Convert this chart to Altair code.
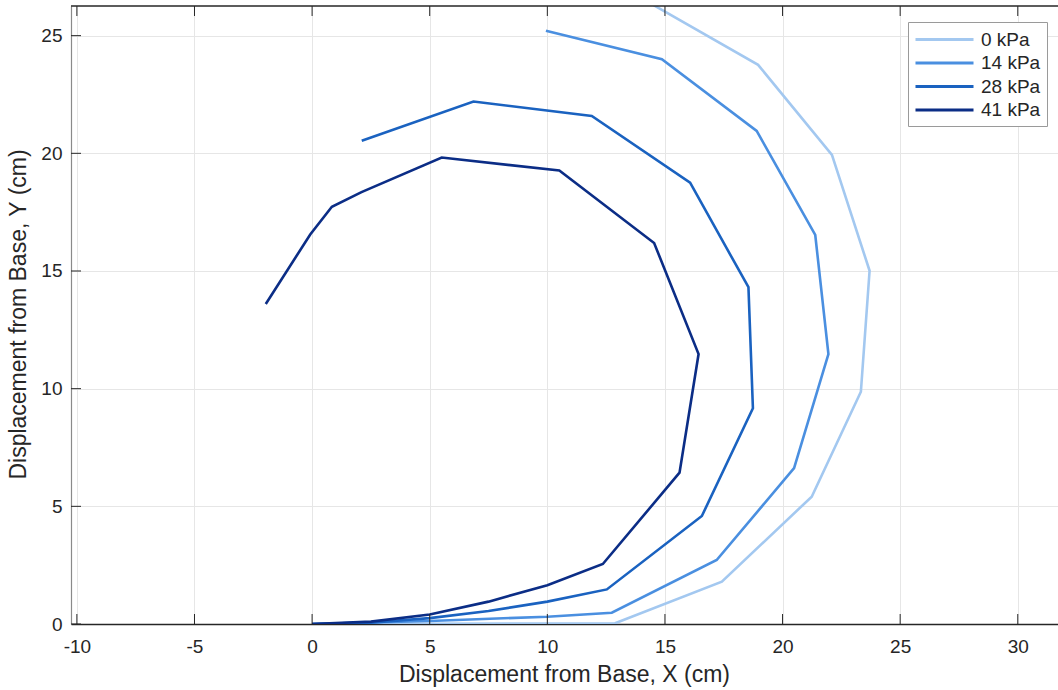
import altair as alt
import pandas as pd

# ---------------- data ----------------
series = ["0 kPa", "14 kPa", "28 kPa", "41 kPa"]
colors = ["#a3c8f0", "#4a8fe0", "#1a62c0", "#0b2d86"]

x_0kpa = [0, 5, 10, 12.88, 17.42, 21.24, 23.33, 23.70, 22.10, 18.96, 14.25]
y_0kpa = [0, 0.01, 0.02, 0.03, 1.80, 5.41, 9.87, 15.01, 19.93, 23.76, 26.45]

x_14kpa = [0, 5, 10, 12.74, 17.20, 20.49, 21.95, 21.39, 18.90, 14.87, 9.94]
y_14kpa = [0, 0.13, 0.31, 0.48, 2.72, 6.62, 11.47, 16.53, 20.95, 24.00, 25.21]

x_28kpa = [0, 2.5, 5, 7.5, 10, 12.53, 16.57, 18.74, 18.55, 16.07, 11.89, 6.86, 2.11]
y_28kpa = [0, 0.06, 0.25, 0.55, 0.95, 1.47, 4.59, 9.17, 14.31, 18.75, 21.59, 22.20, 20.53]

x_41kpa = [0, 2.5, 5, 7.5, 10, 12.36, 15.62, 16.43, 14.54, 10.51, 5.51, 2.10, 0.84, -0.08, -1.97]
y_41kpa = [0, 0.10, 0.40, 0.95, 1.65, 2.55, 6.43, 11.47, 16.19, 19.27, 19.82, 18.35, 17.73, 16.55, 13.60]

x_ticks = [-10, -5, 0, 5, 10, 15, 20, 25, 30]
y_ticks = [0, 5, 10, 15, 20, 25]

x_domain = [-10.25, 31.71]
y_domain = [0, 26.26]

# ---------------- build tables ----------------
rows = []
for name, xs, ys in zip(series,
                        [x_0kpa, x_14kpa, x_28kpa, x_41kpa],
                        [y_0kpa, y_14kpa, y_28kpa, y_41kpa]):
    for i, (xv, yv) in enumerate(zip(xs, ys)):
        rows.append({"series": name, "x": xv, "y": yv, "order": i})
df = pd.DataFrame(rows)

W, H = 987, 618
FONT = "Liberation Sans"
TXT = "#262626"

xscale = alt.Scale(domain=x_domain, nice=False, zero=False)
yscale = alt.Scale(domain=y_domain, nice=False, zero=False)

x_axis = alt.Axis(values=x_ticks, title="Displacement from Base, X (cm)",
                  grid=True, tickSize=0, labelPadding=13,
                  labelExpr="'' + datum.value",
                  domainColor="#262626", domainWidth=1.3,
                  titleX=493, titleY=50, titleBaseline="middle",
                  titleAlign="center")
y_axis = alt.Axis(values=y_ticks, title="Displacement from Base, Y (cm)",
                  grid=True, tickSize=0, labelPadding=9,
                  labelExpr="'' + datum.value",
                  domainColor="#8a8a8a", domainWidth=1.2,
                  titleX=-53, titleY=308, titleAngle=-90,
                  titleBaseline="middle", titleAlign="center")

lines = alt.Chart(df).mark_line(strokeWidth=2.6, clip=True).encode(
    x=alt.X("x:Q", scale=xscale, axis=x_axis),
    y=alt.Y("y:Q", scale=yscale, axis=y_axis),
    color=alt.Color("series:N", scale=alt.Scale(domain=series, range=colors),
                    legend=alt.Legend(title=None, orient="none", legendX=837, legendY=16,
                                      symbolType="M-3,0H3", symbolSize=374,
                                      symbolOffset=19,
                                      symbolStrokeWidth=2.8, labelFontSize=19,
                                      labelFont=FONT, labelColor=TXT,
                                      strokeColor="#9a9a9a", fillColor="white",
                                      padding=6, rowPadding=1.5, labelOffset=25)),
    order="order:Q",
)

xt = pd.DataFrame({"v": x_ticks})
yt = pd.DataFrame({"v": y_ticks})

bottom_ticks = alt.Chart(xt).mark_rule(color="#262626", strokeWidth=1).encode(
    x=alt.X("v:Q", scale=xscale, axis=x_axis),
    y=alt.value(H), y2=alt.value(H - 10))
top_ticks = alt.Chart(xt).mark_rule(color="#262626", strokeWidth=1).encode(
    x=alt.X("v:Q", scale=xscale, axis=x_axis),
    y=alt.value(0), y2=alt.value(10))
left_ticks = alt.Chart(yt).mark_rule(color="#262626", strokeWidth=1).encode(
    y=alt.Y("v:Q", scale=yscale, axis=y_axis),
    x=alt.value(0), x2=alt.value(10))
top_border = alt.Chart(pd.DataFrame({"a": [0]})).mark_rule(color="#262626", strokeWidth=1.3).encode(
    x=alt.value(0), x2=alt.value(W), y=alt.value(0))

chart = alt.layer(lines, bottom_ticks, top_ticks, left_ticks, top_border).properties(
    width=W, height=H,
    padding={"left": 71, "top": 6, "right": 0, "bottom": 66},
    autosize=alt.AutoSizeParams(type="none"),
    background="white",
).configure_view(stroke=None).configure_axis(
    gridColor="#e6e6e6", gridWidth=1,
    labelFont=FONT, labelFontSize=19, labelColor=TXT,
    titleFont=FONT, titleFontSize=23, titleColor=TXT, titleFontWeight="normal",
)

chart.save("out.html", embed_options={"renderer": "svg", "actions": False})
